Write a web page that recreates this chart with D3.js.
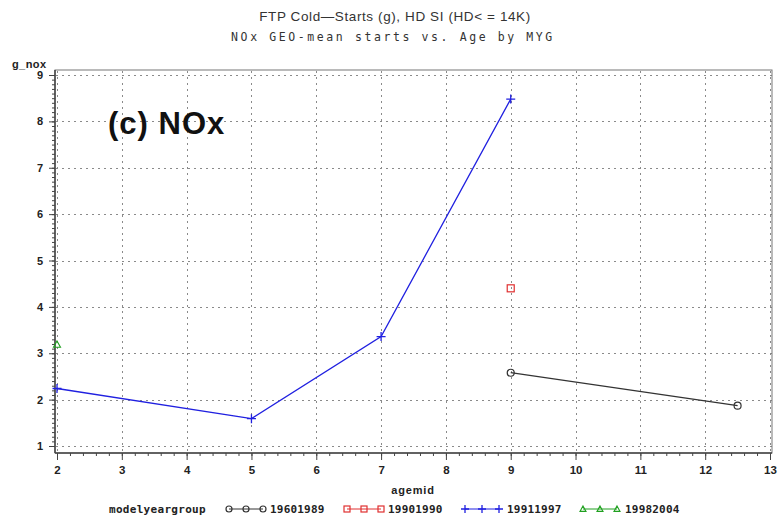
<!DOCTYPE html>
<html><head><meta charset="utf-8">
<script src="https://cdn.jsdelivr.net/npm/d3@7"></script>
<style>body{margin:0;background:#fff}svg{display:block}</style>
</head><body>
<svg id="c" width="779" height="516"></svg>
<script>
const xTicks = [2,3,4,5,6,7,8,9,10,11,12,13];
const yTicks = [1,2,3,4,5,6,7,8,9];
const groups = ["19601989","19901990","19911997","19982004"];
const colors = ["#333333","#e03030","#2020e0","#20a020"];
const symbols = ["circle","square","plus","triangle"];
const s1960 = [[9,2.58],[12.5,1.87]];
const s1990 = [[9,4.40]];
const s1991 = [[2,2.24],[5,1.59],[7,3.36],[9,8.48]];
const s1998 = [[2,3.19]];
const series = [s1960, s1990, s1991, s1998];

const svg = d3.select("#c");
const x = d3.scaleLinear().domain([2,13]).range([57,770]);
const y = d3.scaleLinear().domain([1,9]).range([446,75]);
const L=55, R=772, T=70, B=453;
const sans = "Liberation Sans, Arial, sans-serif";

// grid
const g = svg.append("g");
xTicks.forEach(v=>g.append("line").attr("x1",Math.round(x(v))+0.5).attr("x2",Math.round(x(v))+0.5).attr("y1",T+1).attr("y2",B)
  .attr("stroke","#8a8a8a").attr("stroke-width",1).attr("stroke-dasharray","2,4"));
yTicks.forEach(v=>g.append("line").attr("x1",L+1).attr("x2",R).attr("y1",Math.round(y(v))+0.5).attr("y2",Math.round(y(v))+0.5)
  .attr("stroke","#8a8a8a").attr("stroke-width",1).attr("stroke-dasharray","2,4"));

// frame
svg.append("rect").attr("x",L).attr("y",T).attr("width",R-L).attr("height",B-T)
  .attr("fill","none").attr("stroke","#777").attr("stroke-width",1);

// axes
const xMinor = d3.range(2,13.001,0.2);
const xa = svg.append("g").attr("transform",`translate(0,${B})`);
xa.append("line").attr("x1",L).attr("x2",R).attr("stroke","#444").attr("stroke-width",1.5);
xa.call(d3.axisBottom(x).tickValues(xMinor).tickSize(3).tickFormat(""))
  .call(s=>s.select(".domain").remove());
const xa2 = svg.append("g").attr("transform",`translate(0,${B})`)
  .call(d3.axisBottom(x).tickValues(xTicks).tickSize(7).tickPadding(6).tickFormat(d3.format("d")));
xa2.select(".domain").remove();
xa2.selectAll("text").attr("font-family",sans).attr("font-weight","bold").attr("font-size",11.5).attr("fill","#222");

const ya = svg.append("g").attr("transform",`translate(${L},0)`);
ya.append("line").attr("y1",T).attr("y2",B).attr("stroke","#444").attr("stroke-width",1.5);
ya.call(d3.axisLeft(y).tickValues(d3.range(1,9.001,0.1)).tickSize(3).tickFormat(""))
  .call(s=>s.select(".domain").remove());
const ya2 = svg.append("g").attr("transform",`translate(${L},0)`)
  .call(d3.axisLeft(y).tickValues(yTicks).tickSize(6).tickPadding(6).tickFormat(d3.format("d")));
ya2.select(".domain").remove();
ya2.selectAll("text").attr("font-family",sans).attr("font-weight","bold").attr("font-size",11).attr("fill","#222");
svg.selectAll(".tick line").attr("stroke","#444");

// symbols
function drawSym(sel, sym, cx, cy, col, sz){
  if(sym==="circle") sel.append("circle").attr("cx",cx).attr("cy",cy).attr("r",sz).attr("fill","none").attr("stroke",col).attr("stroke-width",1.2);
  else if(sym==="square") sel.append("rect").attr("x",cx-sz).attr("y",cy-sz).attr("width",2*sz).attr("height",2*sz).attr("fill","none").attr("stroke",col).attr("stroke-width",1.2);
  else if(sym==="plus") sel.append("path").attr("d",`M${cx-sz-1},${cy}H${cx+sz+1}M${cx},${cy-sz-1}V${cy+sz+1}`).attr("stroke",col).attr("stroke-width",1.3);
  else if(sym==="triangle") sel.append("path").attr("d",`M${cx},${cy-sz}L${cx+sz},${cy+sz*0.8}L${cx-sz},${cy+sz*0.8}Z`).attr("fill","none").attr("stroke",col).attr("stroke-width",1.1);
}

const line = d3.line().x(d=>x(d[0])).y(d=>y(d[1]));
series.forEach((s,i)=>{
  if(s.length>1) svg.append("path").datum(s).attr("d",line).attr("fill","none").attr("stroke",colors[i]).attr("stroke-width",1.3);
  s.forEach(d=>drawSym(svg, symbols[i], x(d[0]), y(d[1]), colors[i], 3.5));
});

// titles
svg.append("text").attr("x",395).attr("y",21).attr("text-anchor","middle")
  .attr("font-family",sans).attr("font-size",13.5).attr("letter-spacing",0.6).attr("fill","#333")
  .text("FTP Cold\u2014Starts (g), HD SI (HD< = 14K)");
svg.append("text").attr("x",393).attr("y",41).attr("text-anchor","middle")
  .attr("font-family","DejaVu Sans Mono, monospace").attr("font-size",11.5).attr("fill","#333")
  .attr("letter-spacing",2.6)
  .text("NOx GEO-mean starts vs. Age by MYG");

svg.append("text").attr("x",108).attr("y",134)
  .attr("font-family",sans).attr("font-weight","bold").attr("font-size",31).attr("letter-spacing",1).attr("fill","#111")
  .text("(c) NOx");

svg.append("text").attr("x",12).attr("y",68)
  .attr("font-family",sans).attr("font-weight","bold").attr("font-size",11).attr("letter-spacing",0.4).attr("fill","#222")
  .text("g_nox");
svg.append("text").attr("x",413).attr("y",494).attr("text-anchor","middle")
  .attr("font-family",sans).attr("font-weight","bold").attr("font-size",11).attr("letter-spacing",0.8).attr("fill","#222")
  .text("agemid");

// legend
const lf = "DejaVu Sans Mono, monospace";
svg.append("text").attr("x",109).attr("y",513).attr("font-family",lf).attr("font-weight","bold").attr("font-size",11).attr("letter-spacing",0.3).attr("fill","#222").text("modelyeargroup");
const legX = [229,347,465,583];
const legT = [270,388,507,625];
groups.forEach((gname,i)=>{
  const lx = legX[i], ly=509;
  const lg = svg.append("g");
  lg.append("line").attr("x1",lx).attr("x2",lx+34).attr("y1",ly).attr("y2",ly).attr("stroke",colors[i]).attr("stroke-width",1);
  [0,17,34].forEach(o=>drawSym(lg, symbols[i], lx+o, ly, colors[i], 3));
  svg.append("text").attr("x",legT[i]).attr("y",513).attr("font-family",lf).attr("font-weight","bold").attr("font-size",11).attr("letter-spacing",0.2).attr("fill","#222").text(gname);
});
</script>
</body></html>
